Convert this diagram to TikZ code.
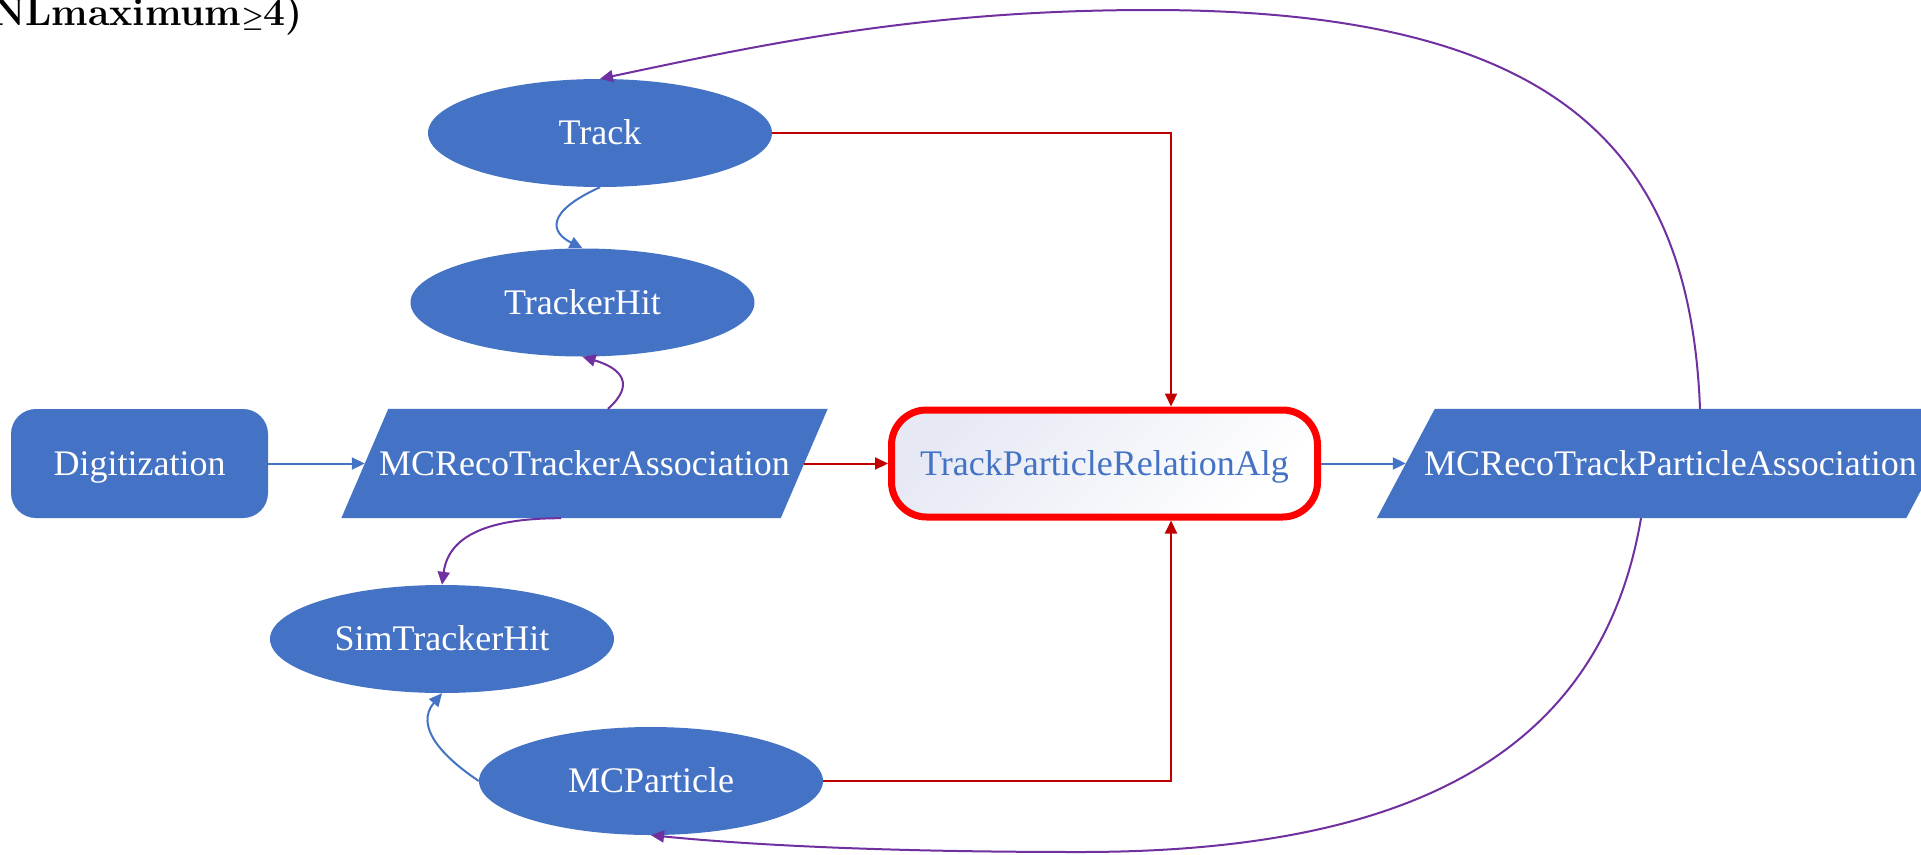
\documentclass[tikz,border=0pt]{standalone}
\usepackage{fontspec}
\newfontfamily\tnr{Liberation Serif}
\usetikzlibrary{shapes.geometric,arrows.meta,backgrounds,calc}
\definecolor{nodeblue}{HTML}{4472C4}
\definecolor{edgered}{HTML}{C00000}
\definecolor{algred}{HTML}{FF0000}
\definecolor{edgepurple}{HTML}{7030A0}
\definecolor{lav}{HTML}{E6E9F4}
\tikzset{
  base/.style={font=\tnr\fontsize{36}{40}\selectfont, inner sep=0pt, text height=23.8pt, text depth=0pt},
  ellnode/.style={base, ellipse, fill=nodeblue, text=white, minimum width=344pt, minimum height=108pt},
  roundbox/.style={base, rectangle, rounded corners=25pt, fill=nodeblue, text=white, minimum width=257pt, minimum height=109pt},
  paranode/.style={base, rectangle, text=white, minimum height=109pt},
  algbox/.style={base, rectangle, rounded corners=35pt, draw=algred, line width=7pt, top color=lav, bottom color=white, shading angle=45, text=nodeblue, minimum width=426pt, minimum height=107pt},
  arr/.style={-{Triangle[length=13pt,width=12pt]}, line width=2pt},
  blueline/.style={arr, draw=nodeblue, color=nodeblue},
  redline/.style={arr, draw=edgered, color=edgered},
  purpleline/.style={arr, draw=edgepurple, color=edgepurple}
}
\begin{document}
\begin{tikzpicture}[x=1pt,y=-1pt]
\useasboundingbox (0,0) rectangle (1921,854);
\begin{pgfonlayer}{background}
\fill[white] (0,0) rectangle (1921,854);
\end{pgfonlayer}

\node[base, font=\normalfont\bfseries\fontsize{39}{44}\selectfont, anchor=base east] (title) at (303,25) {NLmaximum{\boldmath$\geq$}4)};

\node[ellnode] (track) at (600,133) {Track};
\node[ellnode] (trackerhit) at (582.5,302.5) {TrackerHit};
\node[roundbox] (dig) at (139.5,463.5) {Digitization};
\node[paranode, minimum width=439pt] (mcrta) at (584.5,463.5) {MCRecoTrackerAssociation};
\node[algbox] (alg) at (1104.5,463.5) {TrackParticleRelationAlg};
\node[paranode, minimum width=529pt] (mcrtpa) at (1670.5,463.5) {MCRecoTrackParticleAssociation};
\node[ellnode] (simhit) at (442,639) {SimTrackerHit};
\node[ellnode] (mcp) at (651,781) {MCParticle};

\begin{pgfonlayer}{background}
\fill[nodeblue] ([xshift=23.5pt]mcrta.north west) -- ([xshift=23.5pt]mcrta.north east) -- ([xshift=-23.5pt]mcrta.south east) -- ([xshift=-23.5pt]mcrta.south west) -- cycle;
\fill[nodeblue] ([xshift=29pt]mcrtpa.north west) -- ([xshift=29pt]mcrtpa.north east) -- ([xshift=-29pt]mcrtpa.south east) -- ([xshift=-29pt]mcrtpa.south west) -- cycle;
\end{pgfonlayer}

% straight connectors
\draw[blueline] (dig.east) -- (mcrta.west);
\draw[redline] (mcrta.east) -- (alg.west);
\draw[blueline] (alg.east) -- (mcrtpa.west);
\draw[redline] (track.east) -| ([xshift=66.5pt]alg.north);
\draw[redline] (mcp.east) -| ([xshift=66.5pt]alg.south);

% curved connectors
\draw[blueline] (track.south) .. controls +(-55,25) and +(-32,-16) .. (trackerhit.north);
\draw[purpleline] ([xshift=23.5pt]mcrta.north) .. controls +(27,-24) and +(40,12) .. (trackerhit.south);
\draw[purpleline] ([xshift=-23.5pt]mcrta.south) .. controls +(-81,0) and +(6,-45) .. (simhit.north);
\draw[blueline] (mcp.west) .. controls +(-39,-26) and +(-27,32) .. (simhit.south);
\draw[purpleline] ([xshift=29.5pt]mcrtpa.north) .. controls (1690,150) and (1560,10) .. (1150,10) .. controls (920,10) and (760,45) .. (track.north);
\draw[purpleline] ([xshift=-29.5pt]mcrtpa.south) .. controls (1600,760) and (1400,852) .. (1080,852) .. controls (900,852) and (760,846) .. (mcp.south);
\end{tikzpicture}
\end{document}
